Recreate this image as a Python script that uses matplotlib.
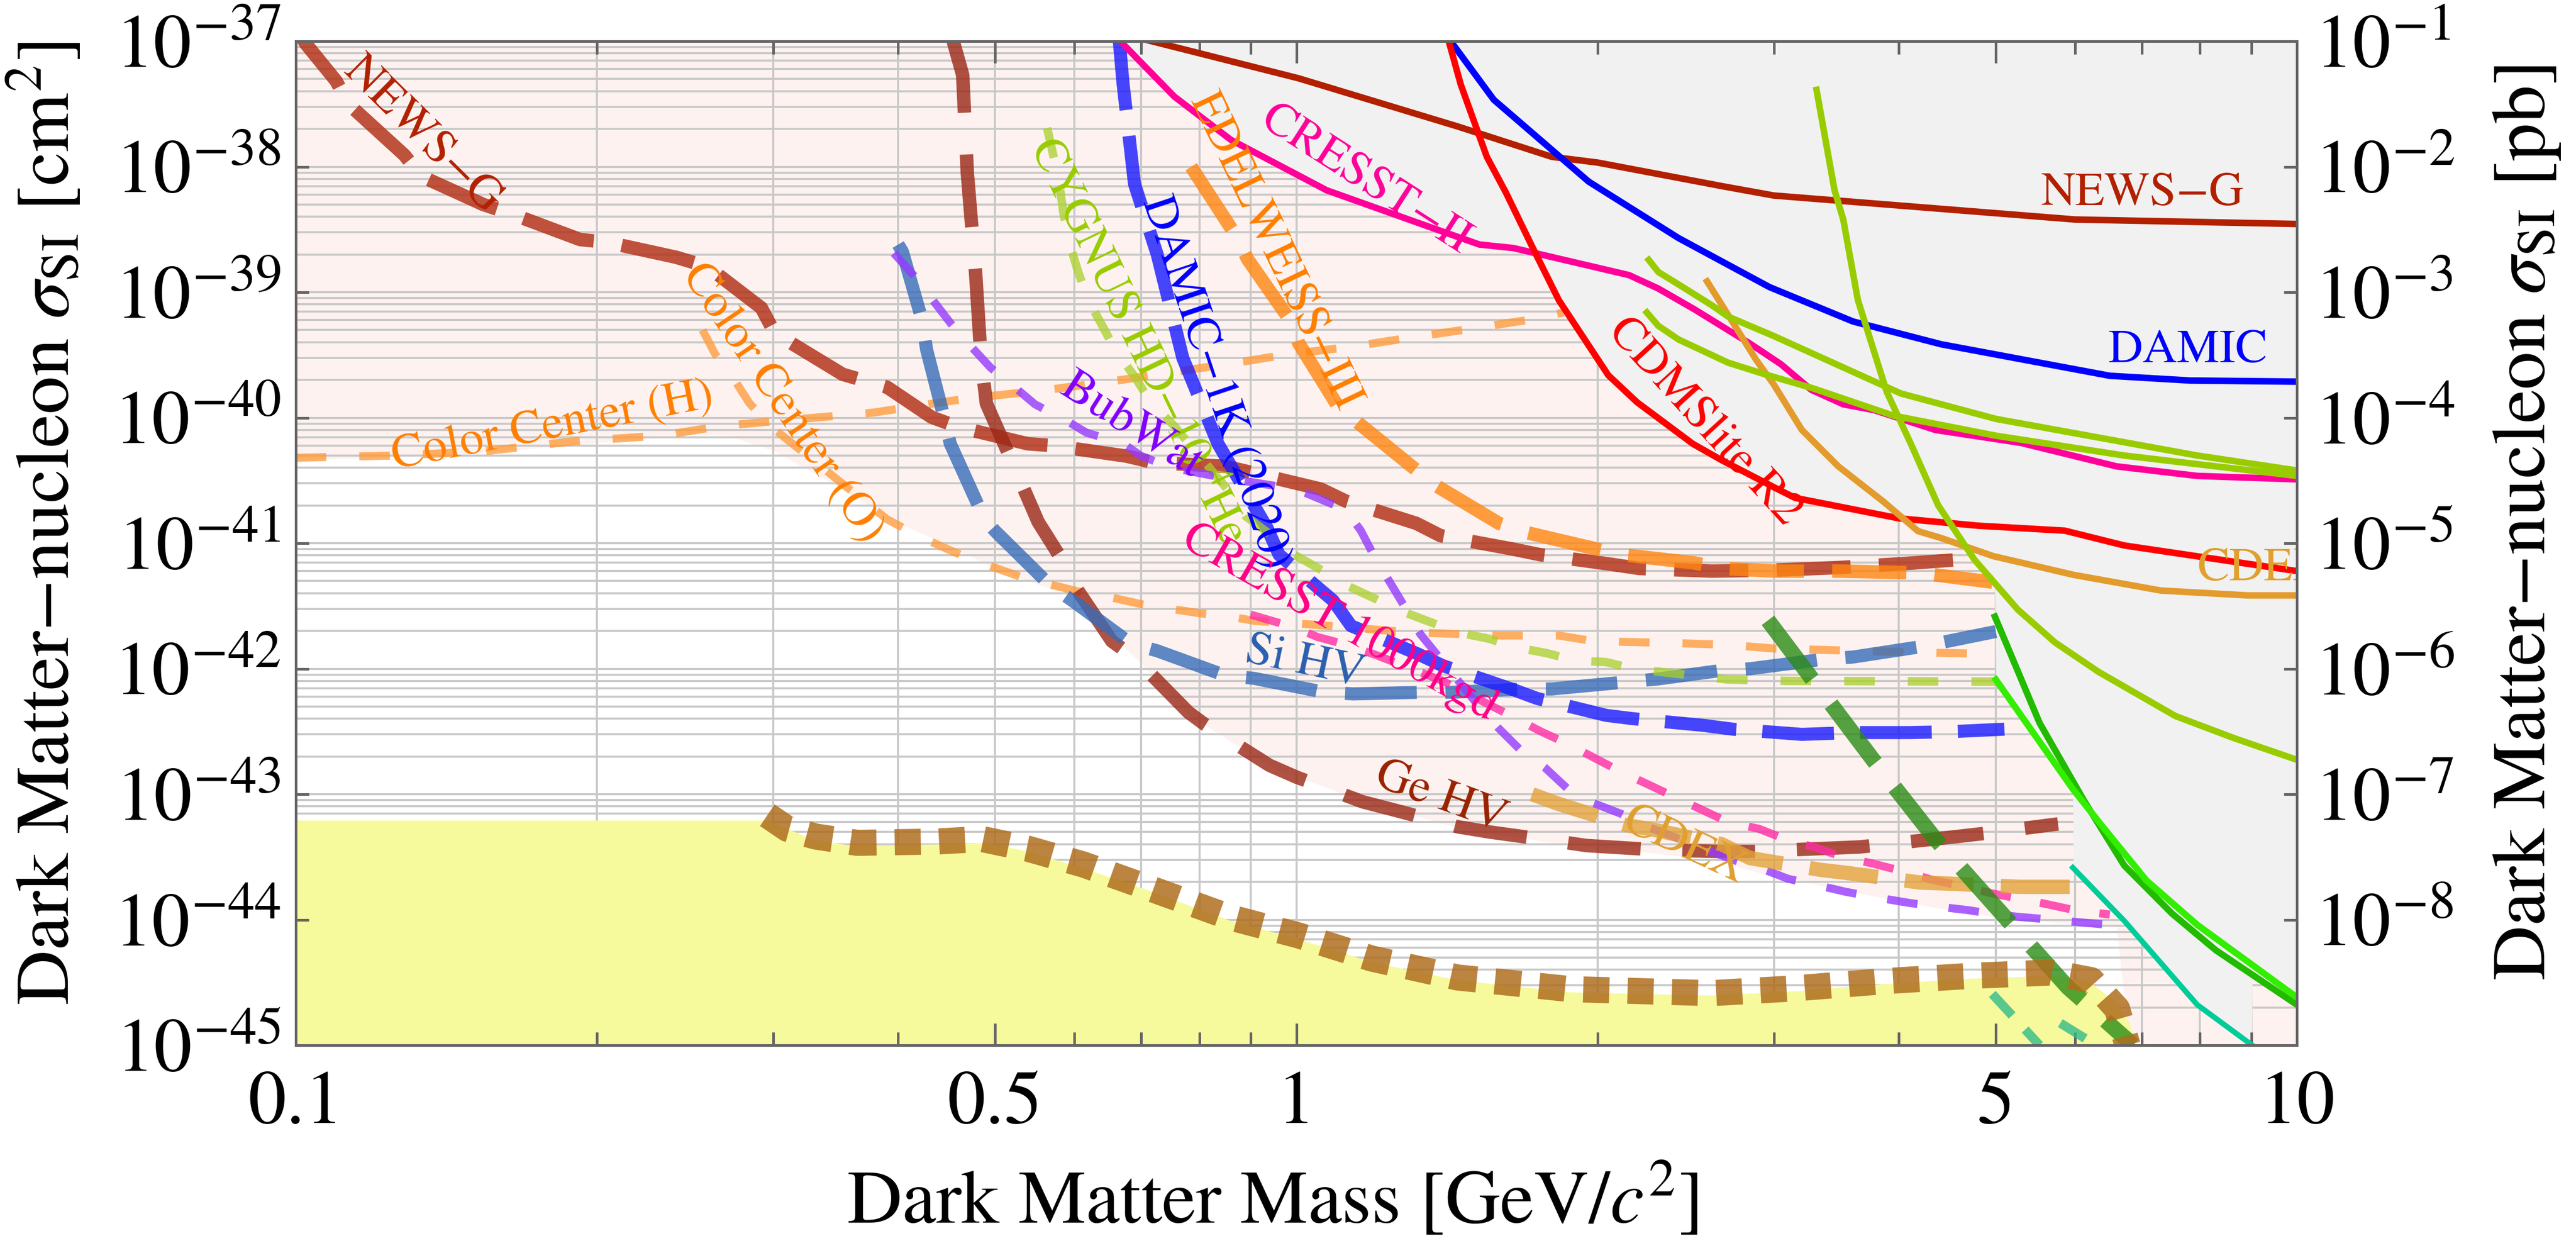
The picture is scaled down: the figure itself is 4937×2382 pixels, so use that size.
import numpy as np
import matplotlib.pyplot as plt
from matplotlib.ticker import NullLocator, NullFormatter

plt.rcParams['font.family'] = ['STIXGeneral', 'DejaVu Sans']
plt.rcParams['mathtext.fontset'] = 'stix'

# ---------------- current limits (solid lines) ----------------
newsg_x = [0.70, 1.005, 1.448, 1.8, 2.0, 2.665, 3.0, 6.0, 10]
newsg_y = [1.05e-37, 5.07e-38, 2.1e-38, 1.2e-38, 1.08e-38, 7.0e-39, 5.9e-39, 3.8e-39, 3.5e-39]

damic_x = [1.42, 1.575, 1.96, 2.41, 2.97, 3.6, 4.41, 6.5, 7.82, 10]
damic_y = [1.05e-37, 3.42e-38, 7.6e-39, 2.7e-39, 1.1e-39, 5.85e-40, 3.85e-40, 2.16e-40, 1.98e-40, 1.94e-40]

cresst2_x = [0.667, 0.755, 0.86, 1.072, 1.355, 1.524, 1.648, 2.15, 2.3, 2.5, 2.84, 3.05, 3.27,
             3.52, 3.78, 4.35, 5.3, 6.6, 7.95, 10]
cresst2_y = [1.0e-37, 3.63e-38, 1.64e-38, 6.5e-39, 3.34e-39, 2.4e-39, 2.25e-39, 1.37e-39, 1.07e-39,
             7.3e-40, 3.9e-40, 2.67e-40, 1.67e-40, 1.28e-40, 1.15e-40, 8.0e-41, 6.3e-41, 4.1e-41,
             3.44e-41, 3.23e-41]

cdms_x = [1.42, 1.46, 1.55, 1.62, 1.72, 1.83, 2.05, 2.19, 2.49, 2.66, 3.0, 3.15, 4.0, 4.8, 5.86, 6.72, 10]
cdms_y = [1.0e-37, 4.5e-38, 1.2e-38, 6.2e-39, 2.32e-39, 8.6e-40, 2.18e-40, 1.33e-40, 6.2e-41, 4.6e-41,
          2.8e-41, 2.3e-41, 1.58e-41, 1.38e-41, 1.26e-41, 9.6e-42, 6.0e-42]

cdex_x = [2.573, 2.66, 2.88, 3.0, 3.2, 3.48, 3.86, 4.18, 4.41, 4.97, 5.98, 7.31, 8.93, 10]
cdex_y = [1.22e-39, 8.0e-40, 2.9e-40, 1.84e-40, 8.0e-41, 4.1e-41, 2.15e-41, 1.25e-41, 1.1e-41,
          7.9e-42, 5.6e-42, 4.2e-42, 3.84e-42, 3.84e-42]

green1_x = [2.25, 2.3, 2.42, 2.6, 2.7, 3.0, 4.02, 5.0, 7.95, 10]
green1_y = [1.81e-39, 1.45e-39, 1.13e-39, 7.9e-40, 6.4e-40, 4.48e-40, 1.56e-40, 9.8e-41, 5.0e-41, 3.8e-41]

green2_x = [2.24, 2.3, 2.41, 2.7, 2.95, 3.28, 3.95, 5.0, 6.72, 10]
green2_y = [6.9e-40, 5.4e-40, 4.2e-40, 2.75e-40, 2.2e-40, 1.72e-40, 1.04e-40, 7.2e-41, 5.0e-41, 3.44e-41]

green3_x = [3.31, 3.45, 3.52, 3.64, 3.89, 4.12, 4.38, 4.76, 5.26, 5.73, 6.34, 7.56, 8.65, 10]
green3_y = [4.1e-38, 6.5e-39, 3.8e-39, 8.7e-40, 1.61e-40, 6.0e-41, 2.0e-41, 7.4e-42, 2.96e-42, 1.62e-42,
            9.4e-43, 4.2e-43, 2.8e-43, 1.88e-43]

greenA_x = [4.99, 5.53, 6.12, 6.72, 7.5, 8.3, 10]
greenA_y = [2.6e-42, 3.7e-43, 9.0e-44, 2.7e-44, 1.12e-44, 5.7e-45, 2.1e-45]

greenB_x = [5.0, 5.97, 6.34, 7.07, 7.95, 10]
greenB_y = [8.2e-43, 1.1e-43, 6.0e-44, 2.06e-44, 9.1e-45, 2.4e-45]

teal_x = [5.97, 6.72, 7.95, 9.02]
teal_y = [2.6e-44, 9.8e-45, 2.1e-45, 1.0e-45]

# ---------------- projections (dashed lines) ----------------
newsg_p_x = [0.1, 0.1023, 0.1098, 0.1127, 0.1284, 0.1335, 0.154, 0.1645, 0.1924, 0.205, 0.24, 0.258,
             0.292, 0.301, 0.352, 0.39, 0.432, 0.458, 0.539, 0.571, 0.676, 0.72, 0.85, 1.058, 1.12,
             1.318, 1.393, 1.644, 1.753, 2.063, 2.2, 2.6, 3.0, 3.48, 4.12, 4.8]
newsg_p_y = [1.3e-37, 9.6e-38, 4.8e-38, 3.2e-38, 1.24e-38, 8.4e-39, 5.0e-39, 4.2e-39, 2.63e-39, 2.5e-39,
             1.9e-39, 1.6e-39, 7.5e-40, 4.74e-40, 2.22e-40, 1.75e-40, 1.01e-40, 8.5e-41, 6.2e-41,
             6.0e-41, 4.95e-41, 4.4e-41, 4.1e-41, 2.7e-41, 2.17e-41, 1.44e-41, 1.15e-41, 9.0e-42,
             8.1e-42, 6.8e-42, 6.3e-42, 6.0e-42, 6.1e-42, 6.4e-42, 6.95e-42, 7.6e-42]

gehv_x = [0.454, 0.464, 0.469, 0.478, 0.484, 0.49, 0.524, 0.552, 0.58, 0.594, 0.654, 0.689, 0.78,
          0.81, 0.94, 1.0, 1.165, 1.24, 1.45, 1.56, 1.83, 1.95, 2.3, 2.66, 2.9, 3.1, 3.65, 3.89,
          4.57, 4.9, 5.77]
gehv_y = [1.0e-37, 5.4e-38, 8.9e-39, 1.43e-39, 3.0e-40, 1.3e-40, 3.86e-41, 1.48e-41, 7.9e-42, 5.2e-42,
          1.66e-42, 1.23e-42, 4.5e-43, 3.6e-43, 1.7e-43, 1.37e-43, 8.7e-44, 7.65e-44, 5.5e-44,
          5.0e-44, 4.2e-44, 3.9e-44, 3.6e-44, 3.5e-44, 3.5e-44, 3.6e-44, 3.8e-44, 4.0e-44, 4.6e-44,
          4.9e-44, 5.8e-44]

damic1k_x = [0.665, 0.671, 0.689, 0.726, 0.77, 0.835, 0.935, 0.961, 1.088, 1.134, 1.323, 1.40, 1.64,
             1.74, 2.04, 2.17, 2.55, 2.73, 3.2, 3.6, 4.1, 4.5, 5.1]
damic1k_y = [1.05e-37, 4.65e-38, 7.3e-39, 2.0e-39, 3.0e-40, 6.2e-41, 1.32e-41, 8.1e-42, 3.5e-42,
             2.2e-42, 1.31e-42, 1.06e-42, 6.9e-43, 5.8e-43, 4.25e-43, 4.0e-43, 3.54e-43, 3.3e-43,
             3.0e-43, 3.1e-43, 3.1e-43, 3.15e-43, 3.3e-43]

edelweiss_x = [0.785, 0.871, 0.894, 0.99, 1.005, 1.1, 1.153, 1.304, 1.38, 1.594, 1.696, 1.995,
               2.117, 2.49, 2.67, 3.0, 3.5, 4.2, 4.96]
edelweiss_y = [1.0e-38, 2.79e-39, 1.83e-39, 5.7e-40, 3.95e-40, 1.24e-40, 9.1e-41, 4.1e-41, 2.87e-41,
               1.44e-41, 1.22e-41, 9.0e-42, 8.1e-42, 7.0e-42, 6.3e-42, 6.0e-42, 6.0e-42, 5.8e-42,
               4.9e-42]

cygnus_x = [0.5635, 0.571, 0.58, 0.585, 0.594, 0.605, 0.62, 0.64, 0.66, 0.689, 0.716, 0.755, 0.866,
            0.89, 0.945, 0.99, 1.06, 1.12, 1.2, 1.27, 1.36, 1.45, 1.56, 1.65, 1.78, 1.9, 2.04, 2.17,
            2.7, 3.1, 5.0]
cygnus_y = [2.04e-38, 1.28e-38, 7e-39, 4.3e-39, 2.39e-39, 1.47e-39, 8.5e-40, 5.4e-40, 3.39e-40,
            2.14e-40, 1.31e-40, 8.6e-41, 2.34e-41, 1.64e-41, 1.15e-41, 8.3e-42, 6.1e-42, 4.65e-42,
            3.6e-42, 2.9e-42, 2.36e-42, 1.95e-42, 1.73e-42, 1.49e-42, 1.33e-42, 1.16e-42, 1.13e-42,
            1.0e-42, 8.2e-43, 8.0e-43, 7.9e-43]

bubwat_x = [0.396, 0.415, 0.433, 0.451, 0.473, 0.495, 0.524, 0.548, 0.59, 0.617, 0.672, 0.7, 0.75,
            0.85, 1.0, 1.12, 1.16, 1.2, 1.24, 1.29, 1.33, 1.52, 1.59, 1.67, 1.77, 1.87, 1.98, 2.11,
            2.22, 2.73, 2.9, 3.1, 3.3, 3.54, 3.77, 4.1, 4.35, 4.7, 5.0, 5.3, 5.7, 6.1, 6.6]
bubwat_y = [2.05e-39, 1.35e-39, 8.7e-40, 5.7e-40, 3.7e-40, 2.5e-40, 1.73e-40, 1.28e-40, 9.4e-41,
            7.6e-41, 6.2e-41, 4.95e-41, 4.0e-41, 3.3e-41, 2.7e-41, 1.85e-41, 1.26e-41, 7.5e-42,
            4.9e-42, 2.9e-42, 1.89e-42, 5.1e-43, 3.4e-43, 2.3e-43, 1.64e-43, 1.09e-43, 8.5e-44,
            7e-44, 5.7e-44, 3.0e-44, 2.6e-44, 2.12e-44, 1.9e-44, 1.67e-44, 1.52e-44, 1.36e-44,
            1.28e-44, 1.19e-44, 1.1e-44, 1.05e-44, 1.0e-44, 9.5e-45, 9.0e-45]

cresst1t_x = [0.9, 0.995, 1.05, 1.13, 1.2, 1.4, 1.65, 1.75, 1.87, 1.98, 2.11, 2.24, 2.7, 2.9, 3.1,
              3.3, 3.5, 3.77, 4.1, 4.3, 4.65, 4.96, 5.3, 5.6, 6.0, 6.5]
cresst1t_y = [2.7e-42, 2.14e-42, 1.79e-42, 1.53e-42, 1.29e-42, 8.0e-43, 4.1e-43, 3.2e-43, 2.5e-43,
              1.97e-43, 1.51e-43, 1.21e-43, 6.0e-44, 5.3e-44, 4.3e-44, 3.77e-44, 3.2e-44, 2.8e-44,
              2.36e-44, 2.1e-44, 1.83e-44, 1.62e-44, 1.46e-44, 1.34e-44, 1.19e-44, 1.1e-44]

cdex_p_x = [1.72, 1.826, 2.13, 2.28, 2.66, 2.84, 3.34, 3.55, 4.2, 4.49, 5.28, 5.65, 6.25]
cdex_p_y = [1.0e-43, 8.4e-44, 5.7e-44, 5.2e-44, 4.0e-44, 3.1e-44, 2.5e-44, 2.36e-44, 1.98e-44,
            1.94e-44, 1.83e-44, 1.83e-44, 1.83e-44]

sihv_x = [0.40, 0.404, 0.423, 0.427, 0.445, 0.451, 0.488, 0.5, 0.567, 0.597, 0.684, 0.726, 0.85,
          0.906, 1.066, 1.14, 1.34, 1.43, 1.69, 1.80, 2.12, 2.3, 2.66, 2.84, 3.36, 3.6, 4.21, 4.5, 5.0]
sihv_y = [2.4e-39, 2.1e-39, 5.85e-40, 3.5e-40, 9.7e-41, 6.2e-41, 1.55e-41, 1.25e-41, 4.65e-42,
          3.5e-42, 1.58e-42, 1.39e-42, 8.8e-43, 8.4e-43, 6.5e-43, 6.3e-43, 6.5e-43, 6.5e-43, 6.9e-43,
          6.9e-43, 7.8e-43, 8.3e-43, 9.7e-43, 1.0e-42, 1.19e-42, 1.24e-42, 1.5e-42, 1.67e-42, 1.98e-42]

cch_x = [0.1, 0.126, 0.154, 0.19, 0.232, 0.266, 0.32, 0.378, 0.462, 0.574, 0.654, 0.75, 0.86, 0.98,
         1.13, 1.3, 1.49, 1.70, 1.85]
cch_y = [4.8e-41, 5.0e-41, 5.4e-41, 6.5e-41, 7.2e-41, 8.6e-41, 9.8e-41, 1.1e-40, 1.4e-40, 1.7e-40,
         1.95e-40, 2.3e-40, 2.7e-40, 3.2e-40, 3.66e-40, 4.35e-40, 5.1e-40, 6.0e-40, 6.9e-40]

cco_x = [0.255, 0.2626, 0.273, 0.284, 0.298, 0.39, 0.415, 0.441, 0.469, 0.502, 0.534, 0.57, 0.61,
         0.66, 0.70, 0.75, 0.8, 0.86, 0.91, 1.0, 1.3, 1.6, 1.83, 1.98, 2.4, 2.7, 3.0, 3.5, 4.0, 4.8]
cco_y = [5.0e-40, 3.2e-40, 2.14e-40, 1.31e-40, 8.6e-41, 1.55e-41, 1.19e-41, 9.5e-42, 7.65e-42,
         6.3e-42, 5.3e-42, 4.65e-42, 4.07e-42, 3.63e-42, 3.27e-42, 3.0e-42, 2.77e-42, 2.6e-42,
         2.4e-42, 2.3e-42, 1.95e-42, 1.84e-42, 1.84e-42, 1.66e-42, 1.6e-42, 1.55e-42, 1.45e-42,
         1.4e-42, 1.36e-42, 1.32e-42]

darkgreen_x = [2.96, 3.4, 3.77, 4.35, 5.07, 5.9, 6.86]
darkgreen_y = [2.43e-42, 5.6e-43, 1.88e-43, 4.4e-44, 1.12e-44, 2.9e-45, 1.0e-45]

teal_p1_x = [4.96, 5.53]
teal_p1_y = [2.56e-45, 1.0e-45]
teal_p2_x = [5.8, 6.3]
teal_p2_y = [1.5e-45, 1.0e-45]

# neutrino fog (dotted) and the yellow area below it
floor_x = [0.296, 0.31, 0.331, 0.364, 0.437, 0.485, 0.538, 0.613, 0.699, 0.86, 1.005, 1.19, 1.448,
           1.879, 2.6, 3.15, 3.89, 4.72, 5.68, 6.23, 6.61, 6.77]
floor_y = [6.8e-44, 5.3e-44, 4.6e-44, 4.1e-44, 4.2e-44, 4.4e-44, 3.7e-44, 2.75e-44, 1.89e-44,
           1.04e-44, 7.5e-45, 4.9e-45, 3.47e-45, 2.8e-45, 2.6e-45, 2.84e-45, 3.25e-45, 3.57e-45,
           3.8e-45, 3.3e-45, 1.95e-45, 1.0e-45]
fog_x = [0.1, 0.296, 0.33, 0.36, 0.44, 0.49, 0.54, 0.61, 0.7, 0.86, 1.0, 1.19, 1.45, 1.88, 2.6,
         3.15, 3.9, 4.7, 5.7, 6.2, 6.6, 6.8, 6.9]
fog_y = [6.2e-44, 6.2e-44, 4.3e-44, 3.9e-44, 4.0e-44, 4.1e-44, 3.5e-44, 2.6e-44, 1.8e-44, 9.8e-45,
         7.1e-45, 4.6e-45, 3.3e-45, 2.65e-45, 2.5e-45, 2.7e-45, 3.1e-45, 3.4e-45, 3.6e-45, 3.2e-45,
         2.2e-45, 1.5e-45, 1.0e-45]

# lower edge of the shaded projection area
proj_x = [0.1, 0.12, 0.15, 0.2, 0.25, 0.27, 0.3, 0.33, 0.36, 0.4, 0.45, 0.5, 0.56, 0.6, 0.65, 0.7,
          0.78, 0.85, 0.95, 1.05, 1.2, 1.45, 1.8, 2.2, 2.6, 3.0, 3.5, 4.1, 5.0, 6.0, 6.6, 6.8, 10]
proj_y = [4.6e-41, 4.8e-41, 5.2e-41, 6.3e-41, 7.3e-41, 7.2e-41, 5.5e-41, 3.6e-41, 2.4e-41, 1.45e-41,
          9.5e-42, 6.3e-42, 4.5e-42, 3.9e-42, 1.9e-42, 1.1e-42, 4.3e-43, 2.8e-43, 1.6e-43, 1.2e-43,
          8.2e-44, 5.4e-44, 4.1e-44, 3.5e-44, 3.0e-44, 2.2e-44, 1.75e-44, 1.35e-44, 1.05e-44,
          9.2e-45, 8.8e-45, 1e-45, 1e-45]


def interp_loglog(xq, x, y):
    out = 10 ** np.interp(np.log10(xq), np.log10(x), np.log10(y))
    out[(xq < x[0]) | (xq > x[-1])] = np.inf
    return out


fig = plt.figure(figsize=(4937 / 300, 2382 / 300), dpi=300)
ax = fig.add_axes([0.1148, 0.1591, 0.7769, 0.8077])
ax.set_xscale('log')
ax.set_yscale('log')
ax.set_xlim(0.1, 10)
ax.set_ylim(1e-45, 1e-37)

# background areas
ax.fill_between(proj_x, proj_y, 1e-37, color='#fdf2ef', lw=0, zorder=0.2)

for d in range(-45, -37):
    for m in range(1, 10):
        ax.axhline(m * 10.0 ** d, color='#c9c9c9', lw=0.95, zorder=0.6)
for d in (-1, 0):
    for m in range(2, 10):
        ax.axvline(m * 10.0 ** d, color='#c9c9c9', lw=0.95, zorder=0.6)
ax.axvline(1, color='#c9c9c9', lw=0.95, zorder=0.6)

xg = np.logspace(-1, 1, 3000)
solids = [(newsg_x, newsg_y), (damic_x, damic_y), (cresst2_x, cresst2_y), (cdms_x, cdms_y),
          (cdex_x, cdex_y), (green1_x, green1_y), (green2_x, green2_y), (green3_x, green3_y),
          (greenA_x, greenA_y), (greenB_x, greenB_y), (teal_x, teal_y)]
env = np.min([interp_loglog(xg, np.array(sx), np.array(sy)) for sx, sy in solids], axis=0)
ax.fill_between(xg, np.minimum(env, 1e-37), 1e-37, where=env < 1e-37, color='#f1f1f1', lw=0,
                zorder=1.0)
ax.fill_between(fog_x, 1e-45, fog_y, color='#f6fa9c', lw=0, zorder=1.0)

# projections
def dline(x, y, color, lw, dash, alpha=0.8):
    ax.plot(x, y, color=color, lw=lw, dashes=dash, alpha=alpha, dash_capstyle='butt',
            solid_capstyle='butt', zorder=3)


dline(cch_x, cch_y, '#ff9834', 3.7, (3.8, 4.1), 0.75)
dline(cco_x, cco_y, '#ff9834', 3.7, (3.8, 4.1), 0.75)
dline(newsg_p_x, newsg_p_y, '#b02a10', 6.2, (5.5, 2.1))
dline(gehv_x, gehv_y, '#9b2815', 6.2, (5.4, 3.1))
dline(sihv_x, sihv_y, '#376cb8', 6.0, (5.5, 2.2))
dline(damic1k_x, damic1k_y, '#1a1aff', 6.0, (5.5, 2.0))
dline(edelweiss_x, edelweiss_y, '#ff850f', 6.2, (5.5, 2.1))
dline(cygnus_x, cygnus_y, '#a8d028', 3.9, (3.6, 3.9), 0.75)
dline(bubwat_x, bubwat_y, '#953aff', 3.7, (3.8, 3.9))
dline(cresst1t_x, cresst1t_y, '#ff2da5', 3.7, (3.8, 3.7))
dline(cdex_p_x, cdex_p_y, '#e3a23b', 6.6, (4.8, 1.9))
dline(darkgreen_x, darkgreen_y, '#2b8c15', 7.2, (4.7, 2.0))
dline(teal_p1_x, teal_p1_y, '#33bb88', 4.2, (3.2, 2.1))
dline(teal_p2_x, teal_p2_y, '#33bb88', 4.2, (3.2, 2.1))
ax.plot(floor_x, floor_y, color='#af6e1e', lw=12, dashes=(1.0, 0.7), alpha=0.85,
        dash_capstyle='butt', zorder=3)

# current limits
solid_style = dict(lw=3.0, zorder=3.5, solid_joinstyle='round')
ax.plot(newsg_x, newsg_y, color='#b22000', **solid_style)
ax.plot(damic_x, damic_y, color='#0000ff', **solid_style)
ax.plot(cresst2_x, cresst2_y, color='#ff0099', **solid_style)
ax.plot(cdms_x, cdms_y, color='#ff0000', **solid_style)
ax.plot(cdex_x, cdex_y, color='#e39b2d', **solid_style)
ax.plot(green1_x, green1_y, color='#99cc00', **solid_style)
ax.plot(green2_x, green2_y, color='#99cc00', **solid_style)
ax.plot(green3_x, green3_y, color='#99cc00', **solid_style)
ax.plot(greenA_x, greenA_y, color='#22bb00', **solid_style)
ax.plot(greenB_x, greenB_y, color='#33ee00', **solid_style)
ax.plot(teal_x, teal_y, color='#00cc99', lw=2.5, zorder=3.5)

# curve labels
labels = [
    ('NEWS\u2212G', 7.01, 6.05e-39, 0, '#b22000'),
    ('DAMIC', 7.78, 3.39e-40, 0, '#0000ff'),
    ('CDMSlite R2', 2.555, 9.2e-41, -47.6, '#ff0000'),
    ('CRESST\u2212II', 1.172, 7.8e-39, -32.7, '#ff0099'),
    ('EDELWEISS\u2212III', 0.951, 2.09e-39, -64.4, '#ff7f00'),
    ('DAMIC\u22121K (2020)', 0.829, 1.91e-40, -71.5, '#0000ff'),
    ('CYGNUS HD\u221210 $^4$He', 0.693, 4.0e-40, -64.2, '#99cc00'),
    ('BubWat', 0.684, 8.6e-41, -32.5, '#8000ff'),
    ('CRESST 1000kgd', 1.104, 2.29e-42, -29.7, '#ff0088'),
    ('Si HV', 1.02, 1.12e-42, -12, '#2a5fb0'),
    ('Ge HV', 1.395, 9.35e-44, -20, '#992200'),
    ('CDEX', 2.44, 3.84e-44, -25, '#e0a030'),
    ('NEWS\u2212G', 0.1338, 1.77e-38, -44.7, '#b22000'),
    ('Color Center (H)', 0.1807, 8.5e-41, 11, '#ff7f00'),
    ('Color Center (O)', 0.3065, 1.3e-40, -55.9, '#ff7f00'),
]
for txt, lx, ly, rot, col in labels:
    ax.text(lx, ly, txt, rotation=rot, color=col, fontsize=22, ha='center', va='center',
            rotation_mode='anchor', zorder=4)
ax.text(7.95, 6.2e-42, 'CDEX', color='#e0a030', fontsize=22, ha='left', va='center',
        zorder=4, clip_on=True)

# axes, ticks
for s in ax.spines.values():
    s.set_color('#666666')
    s.set_linewidth(1.2)
    s.set_zorder(5)

ax.set_xticks([0.1, 0.5, 1, 5, 10], labels=['0.1', '0.5', '1', '5', '10'])
minor_x = [m * 10.0 ** d for d in (-1, 0) for m in (2, 3, 4, 6, 7, 8, 9)]
ax.set_xticks(minor_x, minor=True)
ax.xaxis.set_minor_formatter(NullFormatter())
ax.set_yticks([10.0 ** -n for n in range(37, 46)],
              labels=[r'$10^{-%d}$' % n for n in range(37, 46)])
ax.yaxis.set_minor_locator(NullLocator())
ax.tick_params(axis='x', which='major', direction='in', length=10, width=1.2, color='#666666',
               top=True, labelsize=35, pad=12)
ax.tick_params(axis='x', which='minor', direction='in', length=6, width=1.2, color='#666666',
               top=True)
ax.tick_params(axis='y', which='major', direction='in', length=6, width=1.2, color='#666666',
               labelsize=35, pad=7, right=False)

ax.set_xlabel('Dark Matter Mass [GeV/$c^2$]', fontsize=35)
ax.xaxis.set_label_coords(0.488, -0.117)
ax.set_ylabel('Dark Matter\u2212nucleon $\\sigma_{\\rm SI}$ [cm$^2$]', fontsize=35)
ax.yaxis.set_label_coords(-0.105, 0.52)

ax2 = ax.twinx()
ax2.set_yscale('log')
ax2.set_ylim(1e-9, 1e-1)
ax2.set_yticks([10.0 ** -n for n in range(1, 9)],
               labels=[r'$10^{-%d}$' % n for n in range(1, 9)])
ax2.yaxis.set_minor_locator(NullLocator())
ax2.tick_params(axis='y', which='major', direction='in', length=6, width=1.2, color='#666666',
                labelsize=35, pad=8)
for s in ax2.spines.values():
    s.set_visible(False)
ax2.set_ylabel('Dark Matter\u2212nucleon $\\sigma_{\\rm SI}$ [pb]', fontsize=35)
ax2.yaxis.set_label_coords(1.097, 0.52)

fig.savefig('out.png', dpi=300)
